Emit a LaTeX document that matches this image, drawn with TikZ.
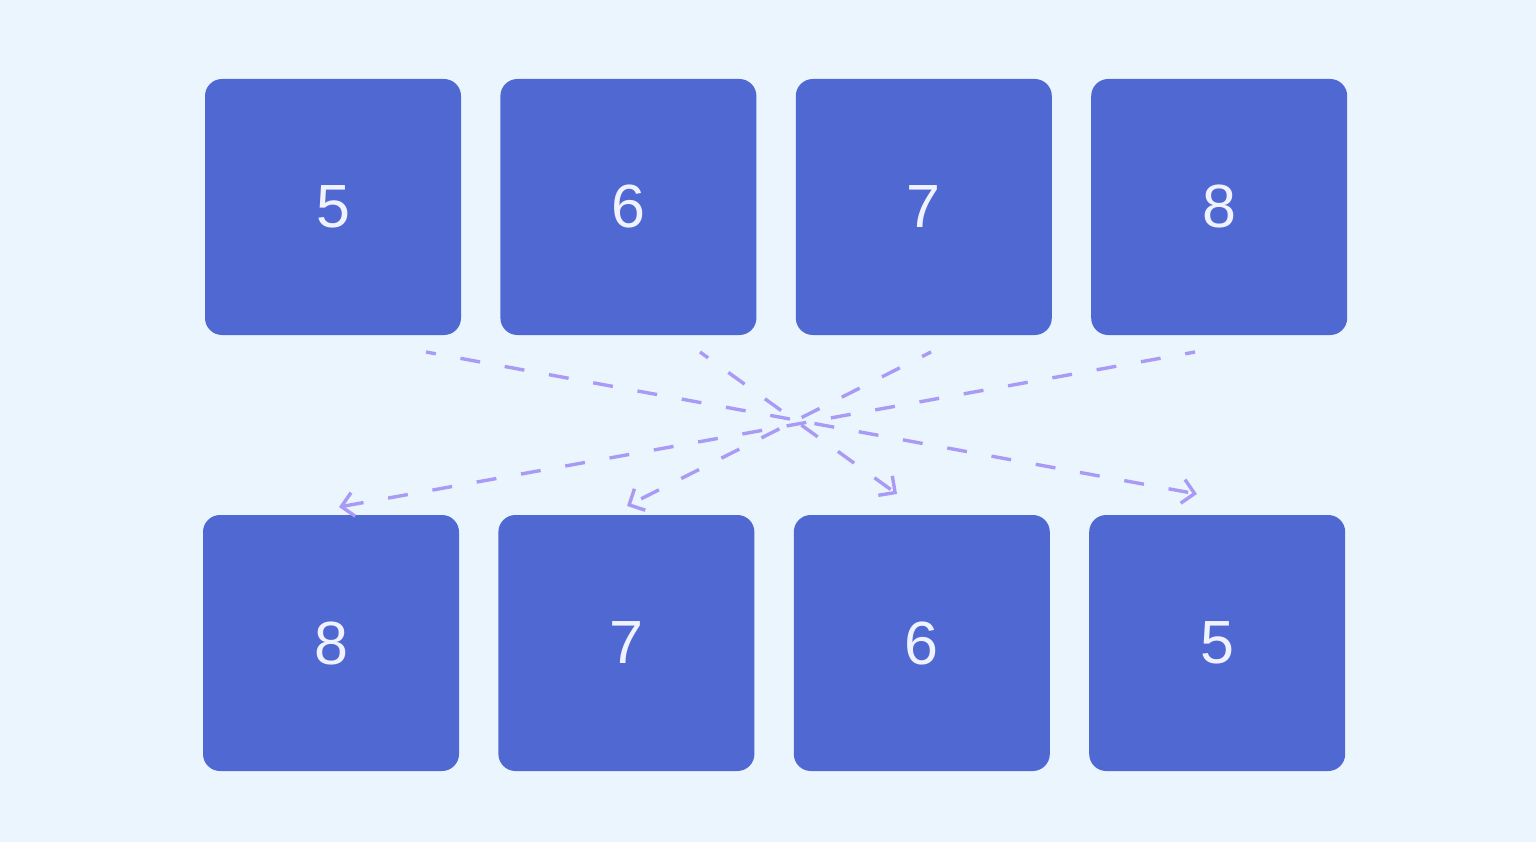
\documentclass[tikz,border=0pt]{standalone}
\usepackage{fontspec}
\setmainfont{Liberation Sans}
\usepackage{tikz}
\usetikzlibrary{positioning, arrows.meta}
\usetikzlibrary{calc}

\definecolor{bgblue}{HTML}{EAF5FE}
\definecolor{cellblue}{HTML}{5068D2}
\definecolor{cellfont}{HTML}{F0F2FF}
\definecolor{swaparrow}{HTML}{A99BF5}

\tikzset{
  cell/.style={fill=cellblue, rounded corners=17pt, minimum width=256pt, minimum height=256pt,
    inner sep=0pt, text=cellfont, font=\fontsize{61}{61}\selectfont},
  swap/.style={draw=swaparrow, line width=3.4pt, dash pattern=on 20pt off 25pt, dash phase=10pt,
    -{Straight Barb[length=12pt,width=24pt]}}
}

\begin{document}
\begin{tikzpicture}[x=1pt, y=-1pt, node distance=39pt]
        \fill[bgblue] (0,0) rectangle (1536,842);
        \useasboundingbox (0,0) rectangle (1536,842);

        % top row
        \node[cell] (t5) at (333,207) {5};
        \node[cell] (t6) [right=of t5] {6};
        \node[cell] (t7) [right=of t6] {7};
        \node[cell] (t8) [right=of t7] {8};

        % bottom row
        \node[cell] (b8) at (331,643) {8};
        \node[cell] (b7) [right=of b8] {7};
        \node[cell] (b6) [right=of b7] {6};
        \node[cell] (b5) [right=of b6] {5};

        \coordinate (s5) at (426,352);
        \coordinate (s6) at (700,352);
        \coordinate (s7) at (931,352);
        \coordinate (s8) at (1195,352);
        \coordinate (e5) at (1197,494);
        \coordinate (e6) at (897,494);
        \coordinate (e7) at (627,506);
        \coordinate (e8) at (339,507);

        \draw[swap] (s5) -- (e5);
        \draw[swap] (s6) -- (e6);
        \draw[swap] (s7) -- (e7);
        \draw[swap] (s8) -- (e8);
      \end{tikzpicture}
\end{document}
